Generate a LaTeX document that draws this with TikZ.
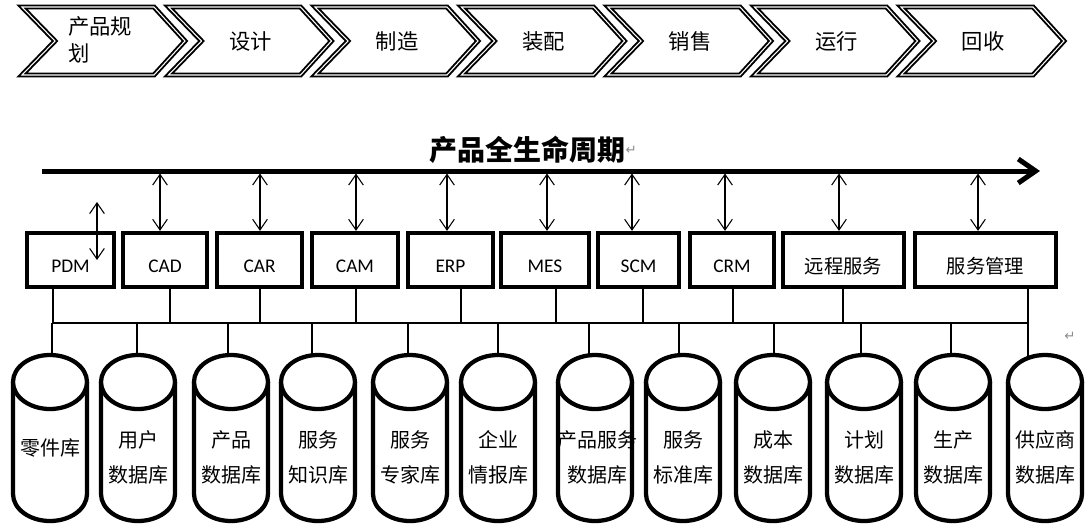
\documentclass[tikz,border=0pt]{standalone}
\usepackage{fontspec}
\setmainfont{Carlito}
\newfontfamily\cjk{Noto Sans CJK SC}
\newfontfamily\symf{DejaVu Sans}
\usetikzlibrary{arrows.meta}
\begin{document}
\begin{tikzpicture}[x=0.75pt,y=-0.75pt,
  chev/.style={draw=black, line width=1.45pt, double=white, double distance=0.8pt, line join=miter},
  chevtext/.style={font=\cjk\fontsize{16}{20}\selectfont, inner sep=0pt},
  sysbox/.style={draw=black, line width=3.2pt, fill=white, minimum width={#1*0.75pt}, minimum height=40.5pt, inner sep=0pt},
  syslbl/.style={font=\fontsize{14.5}{17}\selectfont, inner sep=0pt},
  syscjk/.style={font=\cjk\fontsize{14.5}{17}\selectfont, inner sep=0pt},
  cylbody/.style={draw=black, line width=3.2pt, fill=white},
  cyltext/.style={font=\cjk\fontsize{15}{26}\selectfont, align=center, inner sep=0pt},
  mainarrow/.style={line width=3.75pt, -{Straight Barb[length=13pt,width=18pt]}},
  dbl/.style={line width=0.8pt, {Straight Barb[length=8pt,width=11pt]}-{Straight Barb[length=8pt,width=11pt]}},
  conn/.style={line width=1pt},
  retmark/.style={font=\symf\fontsize{10}{12}\selectfont, text=black!45, inner sep=0pt}
]
\useasboundingbox (0,0) rectangle (1092,526);

% ---------- chevrons ----------
\foreach \k in {0,...,6}{
  \pgfmathsetmacro{\xo}{22+146.5*\k}
  \draw[chev] (\xo,7) -- ++(132,0) -- ++(31,34) -- ++(-31,34) -- ++(-132,0) -- ++(33,-34) -- cycle;
}
\node[chevtext, anchor=west, align=left] (s1) at (68,40) {产品规\\划};
\node[chevtext] (s2) at (250.5,41) {设计};
\node[chevtext] (s3) at (397,41) {制造};
\node[chevtext] (s4) at (543.5,41) {装配};
\node[chevtext] (s5) at (690,41) {销售};
\node[chevtext] (s6) at (836.5,41) {运行};
\node[chevtext] (s7) at (983,41) {回收};

% ---------- lifecycle arrow ----------
\node[font=\cjk\bfseries\fontsize{21}{24}\selectfont, inner sep=0pt] (title) at (527,150) {产品全生命周期};
\node[retmark, anchor=west] (tmark) at (title.east) {↵};
\coordinate (ls) at (42,171);
\coordinate (le) at (1040,171);
\draw[mainarrow] (ls) -- (le);

% ---------- system boxes ----------
\node[sysbox=87]  (pdm) at (70.5,260) {};
\node[sysbox=84]  (cad) at (165,260) {};
\node[sysbox=85]  (car) at (259.5,260) {};
\node[sysbox=86]  (cam) at (355,260) {};
\node[sysbox=85]  (erp) at (450.5,260) {};
\node[sysbox=88]  (mes) at (545,260) {};
\node[sysbox=81]  (scm) at (638.5,260) {};
\node[sysbox=84]  (crm) at (732,260) {};
\node[sysbox=121] (ycfw) at (843.5,260) {};
\node[sysbox=141] (fwgl) at (985.5,260) {};
\node[syslbl] (lpdm) at (70.5,266) {PDM};
\node[syslbl] (lcad) at (165,266) {CAD};
\node[syslbl] (lcar) at (259.5,266) {CAR};
\node[syslbl] (lcam) at (355,266) {CAM};
\node[syslbl] (lerp) at (450.5,266) {ERP};
\node[syslbl] (lmes) at (545,266) {MES};
\node[syslbl] (lscm) at (638.5,266) {SCM};
\node[syslbl] (lcrm) at (732,266) {CRM};
\node[syscjk] (lycfw) at (843.5,266) {远程服务};
\node[syscjk] (lfwgl) at (985.5,266) {服务管理};

% ---------- double arrows to lifecycle line ----------
\coordinate (pa) at (97,202);
\draw[dbl] (pa) -- (pa |- pdm.center);
\foreach \x/\n in {160/cad,260/car,356/cam,447/erp,547/mes,632/scm,725/crm,839/ycfw,978/fwgl}{
  \coordinate (a\n) at (\x,173.5);
  \draw[dbl] (a\n) -- (a\n |- \n.north);
}

% ---------- bus ----------
\coordinate (busL) at (53,323);
\coordinate (busR) at (1028,323);
\draw[conn] (busL) -- (busR);
\foreach \x/\n in {53/pdm,170/cad,260/car,356/cam,461/erp,556/mes,643/scm,733/crm,843/ycfw}{
  \coordinate (k\n) at (\x,323);
  \draw[conn] (\n.south -| k\n) -- (k\n);
}

% ---------- cylinders ----------
\foreach \cx [count=\i] in {50,138,231,318,410,498,595,683,773,864,953,1045}{
  \draw[cylbody] (\cx-37,382) -- (\cx-37,494) arc[start angle=180, end angle=0, x radius=37, y radius=27] -- (\cx+37,382);
  \draw[cylbody] (\cx,382) ellipse[x radius=37, y radius=27];
}
\foreach \tx [count=\i] in {52,137,228,312,408,498,589,679,774,861,951}{
  \coordinate (t\i) at (\tx,355);
  \coordinate (u\i) at (\tx,323);
  \draw[conn] (u\i) -- (t\i);
}
\coordinate (t12) at (1028,357);
\draw[conn] (fwgl.south -| t12) -- (t12);

\node[cyltext] (d1)  at (50,448)  {零件库};
\node[cyltext] (d2)  at (138,457.5) {用户\\数据库};
\node[cyltext] (d3)  at (231,457.5) {产品\\数据库};
\node[cyltext] (d4)  at (318,457.5) {服务\\知识库};
\node[cyltext] (d5)  at (410,457.5) {服务\\专家库};
\node[cyltext] (d6)  at (498,457.5) {企业\\情报库};
\node[cyltext] (d7)  at (597,457.5) {产品服务\\数据库};
\node[cyltext] (d8)  at (683,457.5) {服务\\标准库};
\node[cyltext] (d9)  at (773,457.5) {成本\\数据库};
\node[cyltext] (d10) at (864,457.5) {计划\\数据库};
\node[cyltext] (d11) at (953,457.5) {生产\\数据库};
\node[cyltext] (d12) at (1045,457.5) {供应商\\数据库};

\node[retmark] (rmark) at (1070,336) {↵};
\end{tikzpicture}
\end{document}
